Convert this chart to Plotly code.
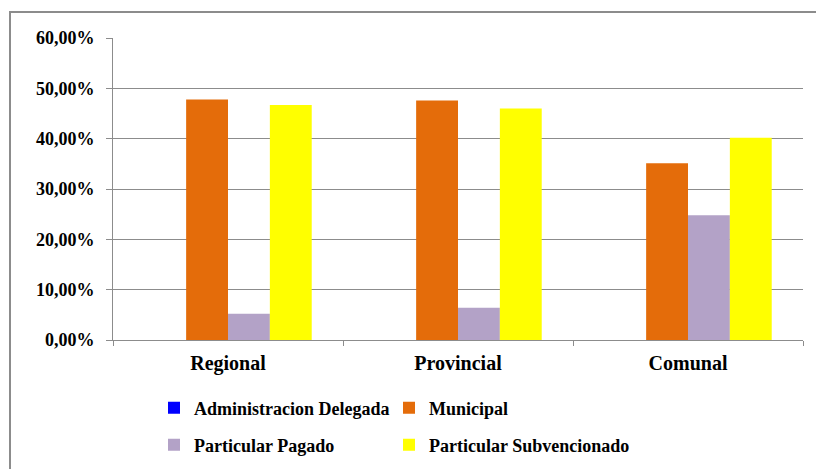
import plotly.graph_objects as go

categories = ["Regional", "Provincial", "Comunal"]
admin_delegada = [0.0, 0.0, 0.0]
municipal = [0.478, 0.476, 0.351]
particular_pagado = [0.052, 0.064, 0.248]
particular_subvencionado = [0.467, 0.460, 0.402]

series = [
    ("Administracion Delegada", admin_delegada, "#0000FF", "legend"),
    ("Municipal", municipal, "#E46C0A", "legend2"),
    ("Particular Pagado", particular_pagado, "#B3A2C7", "legend3"),
    ("Particular Subvencionado", particular_subvencionado, "#FFFF00", "legend4"),
]

FONT = "Liberation Serif"

fig = go.Figure()
for name, vals, color, leg in series:
    fig.add_trace(go.Bar(
        name=name, x=categories, y=vals, marker_color=color,
        marker_line_width=0, legend=leg, showlegend=True,
    ))

# page body has an 8px margin, so figure is 816x461
W, H = 816, 461
L, R, T, B = 105, 21, 30, 129
pw, ph = W - L - R, H - T - B

def px_x(x):
    return (x - L) / pw

def px_y(y):
    return (H - B - y) / ph

legend_common = dict(
    orientation="h", xanchor="left", yanchor="middle",
    xref="container", yref="container",
    font=dict(family=FONT, size=18, color="#000000", weight="bold"),
    itemwidth=30, indentation=-12,
    bgcolor="rgba(0,0,0,0)", borderwidth=0,
)

col1, col2 = 158, 393
row1, row2 = 400, 437

fig.update_layout(
    width=W, height=H,
    showlegend=True,
    margin=dict(l=L, r=R, t=T, b=B, pad=0, autoexpand=False),
    paper_bgcolor="white", plot_bgcolor="white",
    barmode="group", bargap=0.272, bargroupgap=0,
    separators=",.",
    font=dict(family=FONT, size=18, color="#000000"),
    legend=dict(x=col1 / W, y=1 - row1 / H, **legend_common),
    legend2=dict(x=col2 / W, y=1 - row1 / H, **legend_common),
    legend3=dict(x=col1 / W, y=1 - row2 / H, **legend_common),
    legend4=dict(x=col2 / W, y=1 - row2 / H, **legend_common),
    xaxis=dict(
        showgrid=False, showline=True, linecolor="#8c8c8c", linewidth=1,
        ticks="outside", tickson="boundaries", ticklen=5, tickcolor="#8c8c8c",
        ticklabelstandoff=5, automargin=False,
        tickfont=dict(family=FONT, size=20, color="#000000", weight="bold"),
    ),
    yaxis=dict(
        range=[0, 0.6], dtick=0.1, tickformat=".2%",
        showgrid=True, gridcolor="#8c8c8c", gridwidth=1,
        showline=True, linecolor="#8c8c8c", linewidth=1,
        ticks="outside", ticklen=6, tickcolor="#8c8c8c",
        ticklabelstandoff=8, automargin=False,
        tickfont=dict(family=FONT, size=18, color="#000000", weight="bold"),
        zeroline=False,
    ),
    shapes=[dict(
        type="rect", xref="paper", yref="paper",
        x0=px_x(2), x1=px_x(840), y0=px_y(490), y1=px_y(4),
        line=dict(color="#8c8c8c", width=2), fillcolor="rgba(0,0,0,0)",
        layer="below",
    )],
)

fig.write_html("out.html")
